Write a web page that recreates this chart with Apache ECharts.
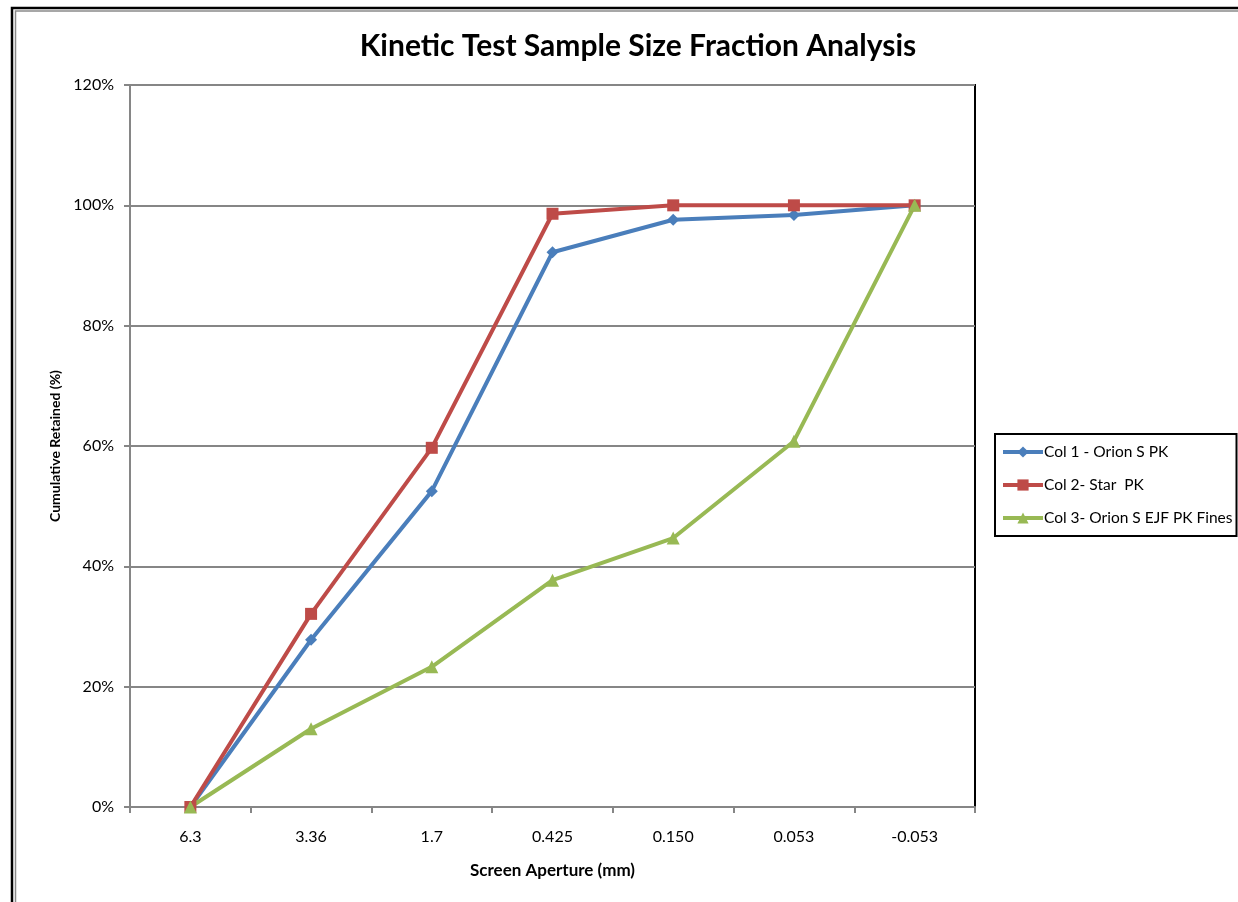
<!DOCTYPE html>
<html><head><meta charset="utf-8">
<script src="https://cdn.jsdelivr.net/npm/echarts@6/dist/echarts.min.js"></script>
<style>html,body{margin:0;padding:0;background:#fff;}#c{width:1238px;height:902px;}</style>
</head><body><div id="c"></div>
<script>
const categories = ['6.3','3.36','1.7','0.425','0.150','0.053','-0.053'];
const col1 = [0, 27.8, 52.5, 92.2, 97.6, 98.4, 100];
const col2 = [0, 32.1, 59.7, 98.6, 100, 100, 100];
const col3 = [0, 13.0, 23.3, 37.7, 44.7, 60.8, 100];
const seriesNames = ['Col 1 - Orion S PK', 'Col 2- Star  PK', 'Col 3- Orion S EJF PK Fines'];
const yTicks = {min: 0, max: 120, interval: 20};

const FONT = 'Lato';
const chart = echarts.init(document.getElementById('c'), null, {renderer: 'canvas'});
const mk = (name, data, color, symbol, size) => ({
  name, type: 'line', data, symbol, symbolSize: size, showSymbol: true,
  lineStyle: {color, width: 4}, itemStyle: {color}, z: 3, animation: false
});
chart.setOption({
  animation: false,
  textStyle: {fontFamily: FONT},
  title: {
    text: 'Kinetic Test Sample Size Fraction Analysis', left: 633, top: 26, textAlign: 'center',
    textStyle: {fontFamily: FONT, fontSize: 30, fontWeight: 'bold', color: '#000'}
  },
  graphic: [
    {type: 'rect', shape: {x: 12, y: 8, width: 1400, height: 1200}, style: {fill: 'none', stroke: '#000', lineWidth: 2.5}, silent: true},
    {type: 'rect', shape: {x: 15.5, y: 11, width: 1400, height: 1200}, style: {fill: 'none', stroke: '#8a8a8a', lineWidth: 1.5}, silent: true}
  ],
  legend: {
    orient: 'vertical', left: 995, top: 434,
    backgroundColor: '#fff', borderColor: '#000', borderWidth: 2,
    padding: [10, 4, 10, 6], itemGap: 17, itemWidth: 40, itemHeight: 14,
    lineStyle: {width: 4},
    textStyle: {fontFamily: FONT, fontSize: 15.5, lineHeight: 16, color: '#000', padding: [0, 0, 0, -4]},
    data: seriesNames
  },
  grid: {left: 130, right: 263, top: 85, bottom: 95, show: true, borderColor: '#000', borderWidth: 2, backgroundColor: '#fff'},
  xAxis: {
    type: 'category', data: categories, boundaryGap: true,
    name: 'Screen Aperture (mm)', nameLocation: 'middle', nameGap: 55,
    nameTextStyle: {fontFamily: FONT, fontSize: 17, fontWeight: 'bold', color: '#000'},
    axisLine: {lineStyle: {color: '#868686', width: 2}},
    axisTick: {show: true, alignWithLabel: false, length: 6, lineStyle: {color: '#868686', width: 2}},
    axisLabel: {fontFamily: FONT, fontSize: 16, color: '#000', margin: 22}
  },
  yAxis: {
    type: 'value', min: yTicks.min, max: yTicks.max, interval: yTicks.interval,
    name: 'Cumulative Retained (%)', nameLocation: 'middle', nameGap: 66, nameRotate: 90,
    nameTextStyle: {fontFamily: FONT, fontSize: 14, fontWeight: 'bold', color: '#000'},
    axisLine: {show: true, lineStyle: {color: '#868686', width: 2}},
    axisTick: {show: true, length: 6, lineStyle: {color: '#868686', width: 2}},
    axisLabel: {fontFamily: FONT, fontSize: 16, color: '#000', margin: 16, formatter: '{value}%'},
    splitLine: {show: true, lineStyle: {color: '#868686', width: 2}}
  },
  series: [
    mk(seriesNames[0], col1, '#4a7ebb', 'diamond', 12),
    mk(seriesNames[1], col2, '#be4b48', 'rect', 12),
    mk(seriesNames[2], col3, '#98b954', 'triangle', 13)
  ]
});
</script></body></html>
